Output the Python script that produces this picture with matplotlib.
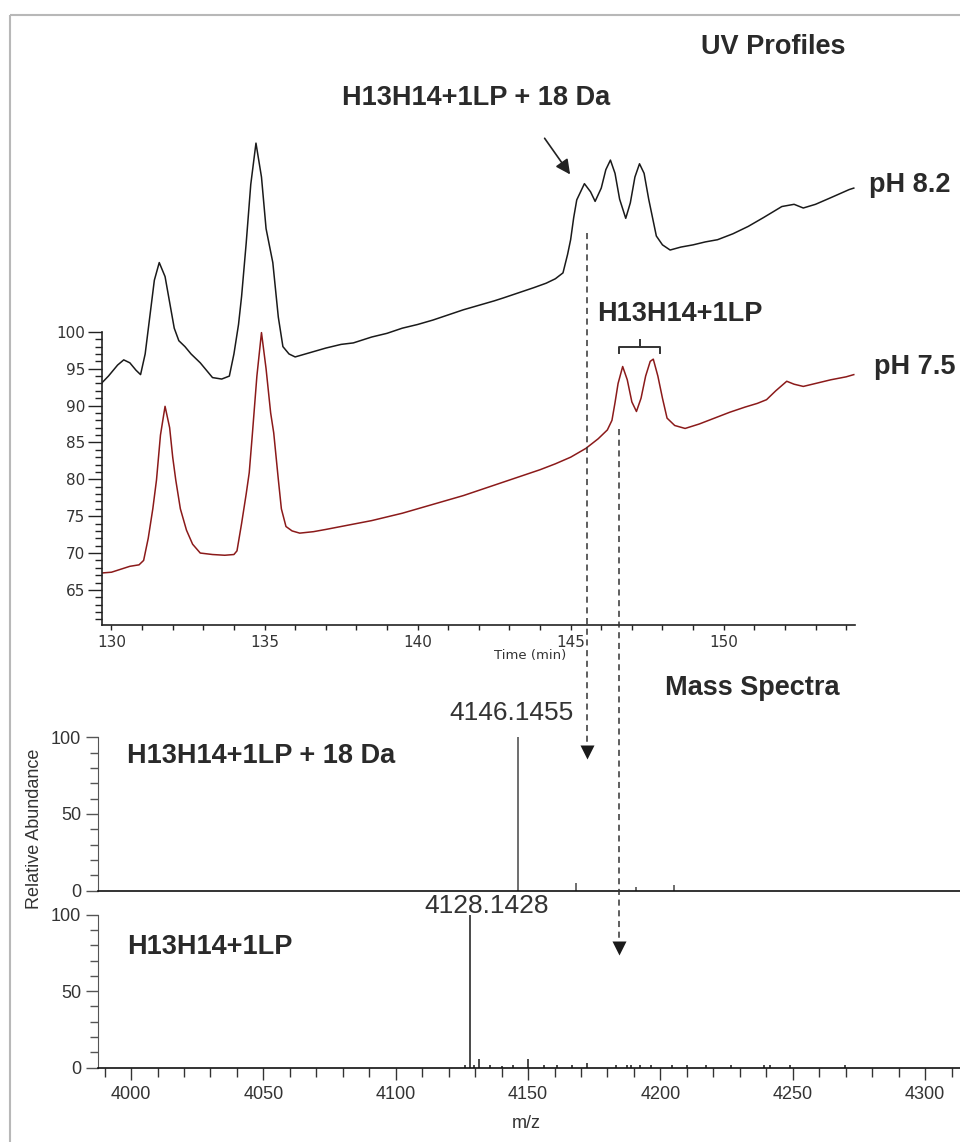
# UV profiles (pH 8.2 / 7.5) with the matching mass spectra below
import matplotlib.pyplot as plt
from matplotlib.patches import Rectangle

plt.rcParams['font.family'] = ['Liberation Sans', 'DejaVu Sans']

# --- UV trace, pH 8.2 (time in min, absorbance) ---
time_82 = [129.69, 129.9, 130.2, 130.4, 130.6, 130.8, 130.95, 131.1, 131.25, 131.4,
           131.56, 131.75, 131.9, 132.05, 132.2, 132.4, 132.6, 132.9, 133.1, 133.3,
           133.6, 133.85, 134.0, 134.15, 134.25, 134.4, 134.55, 134.72, 134.9, 135.05,
           135.27, 135.45, 135.6, 135.8, 136.0, 136.5, 137.0, 137.5, 137.9, 138.5,
           139.0, 139.5, 140.0, 140.5, 141.0, 141.5, 142.0, 142.5, 142.8, 143.3,
           143.8, 144.2, 144.5, 144.75, 144.9, 145.0, 145.1, 145.2, 145.45, 145.65,
           145.8, 146.0, 146.15, 146.3, 146.45, 146.6, 146.8, 146.95, 147.1, 147.25,
           147.4, 147.55, 147.7, 147.8, 148.0, 148.25, 148.6, 149.0, 149.4, 149.8,
           150.3, 150.8, 151.3, 151.9, 152.3, 152.6, 153.0, 153.5, 154.1, 154.25]
uv_82 = [93.1, 94.0, 95.5, 96.2, 95.8, 94.8, 94.2, 97.0, 102.0, 107.0,
         109.4, 107.5, 104.0, 100.5, 98.8, 98.0, 97.0, 95.8, 94.8, 93.8,
         93.6, 94.0, 97.0, 101.0, 104.8, 112.0, 120.0, 125.6, 121.0, 114.0,
         109.4, 102.0, 98.0, 97.0, 96.6, 97.2, 97.8, 98.3, 98.5, 99.3,
         99.8, 100.5, 101.0, 101.6, 102.3, 103.0, 103.6, 104.2, 104.6, 105.3,
         106.0, 106.6, 107.2, 108.0, 110.5, 112.5, 115.5, 117.9, 120.1, 119.0,
         117.7, 119.5, 122.0, 123.3, 121.5, 118.0, 115.4, 117.5, 121.0, 122.8,
         121.5, 118.0, 115.0, 113.0, 111.8, 111.1, 111.5, 111.8, 112.2, 112.5,
         113.3, 114.3, 115.5, 117.0, 117.3, 116.8, 117.3, 118.2, 119.3, 119.5]

# --- UV trace, pH 7.5 ---
time_75 = [129.7, 130.0, 130.3, 130.6, 130.9, 131.05, 131.2, 131.35, 131.47, 131.6,
           131.75, 131.9, 132.0, 132.1, 132.25, 132.45, 132.65, 132.9, 133.3, 133.7,
           134.0, 134.1, 134.25, 134.4, 134.5, 134.6, 134.75, 134.9, 135.05, 135.2,
           135.3, 135.45, 135.55, 135.7, 135.9, 136.15, 136.6, 137.0, 137.5, 138.0,
           138.5, 139.0, 139.5, 140.0, 140.5, 141.0, 141.5, 142.0, 142.5, 143.0,
           143.5, 144.0, 144.5, 145.0, 145.5, 145.9, 146.2, 146.35, 146.45, 146.55,
           146.7, 146.85, 147.0, 147.15, 147.3, 147.45, 147.6, 147.7, 147.85, 148.0,
           148.15, 148.4, 148.74, 149.2, 149.7, 150.2, 150.7, 151.1, 151.4, 151.7,
           152.06, 152.3, 152.6, 153.0, 153.5, 154.0, 154.25]
uv_75 = [67.3, 67.4, 67.8, 68.2, 68.4, 69.0, 72.0, 76.0, 79.9, 86.0,
         89.9, 87.0, 83.0, 79.9, 76.0, 73.1, 71.2, 70.0, 69.8, 69.7,
         69.8, 70.3, 74.0, 78.0, 80.9, 86.0, 94.0, 99.9, 95.0, 89.0,
         86.3, 80.0, 76.0, 73.6, 73.0, 72.7, 72.9, 73.2, 73.6, 74.0,
         74.4, 74.9, 75.4, 76.0, 76.6, 77.2, 77.8, 78.5, 79.2, 79.9,
         80.6, 81.3, 82.1, 83.0, 84.2, 85.5, 86.7, 88.0, 90.4, 93.0,
         95.3, 93.5, 90.5, 89.2, 91.0, 94.0, 96.0, 96.3, 94.0, 91.0,
         88.3, 87.3, 86.9, 87.5, 88.3, 89.1, 89.8, 90.3, 90.8, 92.0,
         93.3, 92.9, 92.6, 93.0, 93.5, 93.9, 94.2]

# --- mass spectra (m/z, relative abundance %) ---
mz_18da = [4146.1455, 4168.2, 4190.9, 4205.1]
ab_18da = [100, 4.6, 2.0, 3.5]

mz_1lp = [4126.2, 4128.1428, 4129.5, 4131.3, 4135.8, 4140.0, 4144.4, 4150.0, 4155.9,
          4161.0, 4166.6, 4172.1, 4183.4, 4187.2, 4188.9, 4192.3, 4196.3, 4204.2,
          4209.9, 4217.2, 4226.8, 4239.1, 4241.6, 4249.0, 4269.7]
ab_1lp = [2.0, 100, 2.0, 5.4, 2.0, 1.3, 2.0, 5.4, 1.5,
          1.5, 1.5, 3.3, 1.5, 2.0, 2.0, 2.0, 1.5, 1.5,
          1.5, 1.5, 1.5, 2.0, 2.0, 1.5, 1.5]

W, H = 960, 1142


def box(l, t, r, b):
    return [l / W, 1 - b / H, (r - l) / W, (b - t) / H]


fig = plt.figure(figsize=(W / 100, H / 100), dpi=100)

# UV panel
ax = fig.add_axes(box(102, 20, 855, 625))
ax.plot(time_82, uv_82, color='#1a1a1a', lw=1.1)
ax.plot(time_75, uv_75, color='#8b1a1a', lw=1.1)
ax.set_xlim(129.69, 154.29)
ax.set_ylim(60.24, 142.3)
ax.spines[['top', 'right']].set_visible(False)
ax.spines['left'].set_bounds(60.24, 100)
for s in ('left', 'bottom'):
    ax.spines[s].set_color('#222222')
    ax.spines[s].set_linewidth(1.2)
ax.set_yticks(range(65, 101, 5))
ax.set_yticks(range(61, 101), minor=True)
ax.set_xticks(range(130, 151, 5))
ax.set_xticks(range(130, 155), minor=True)
ax.tick_params(axis='y', which='major', length=10, width=1, color='#222222', pad=2)
ax.tick_params(axis='y', which='minor', length=5, width=1, color='#222222')
ax.tick_params(axis='x', which='both', length=3.5, width=1, color='#222222')
ax.tick_params(labelsize=11, labelcolor='#333333')
for lab in ax.get_xticklabels() + ax.get_yticklabels():
    lab.set_family('DejaVu Sans')
ax.patch.set_alpha(0)

# mass spectra panels
xlim_ms = (3987.4, 4313.2)
ax1 = fig.add_axes(box(97.7, 700, 960, 890.5))
ax2 = fig.add_axes(box(97.7, 900, 960, 1067.7))
ax1.vlines(mz_18da, 0, ab_18da, color='#6e6e6e', lw=1.4)
ax2.vlines(mz_1lp, 0, ab_1lp, color='#4a4a4a', lw=1.4)
ax1.set_ylim(0, 124.5)
ax2.set_ylim(0, 109.6)
for a in (ax1, ax2):
    a.set_xlim(*xlim_ms)
    a.spines[['top', 'right']].set_visible(False)
    a.spines['left'].set_bounds(0, 100)
    a.spines['left'].set_color('#555555')
    a.spines['bottom'].set_color('#111111')
    a.spines['bottom'].set_linewidth(1.2)
    a.set_yticks([0, 50, 100])
    a.set_yticks(range(0, 101, 10), minor=True)
    a.tick_params(axis='y', which='major', length=8.4, width=1, color='#555555',
                  labelsize=13, labelcolor='#333333')
    a.tick_params(axis='y', which='minor', length=5.5, width=1, color='#555555')
    a.patch.set_alpha(0)
ax1.set_xticks([])
ax2.set_xticks(range(4000, 4301, 50))
ax2.set_xticks(range(3990, 4311, 10), minor=True)
ax2.tick_params(axis='x', which='major', length=8.9, width=1, color='#333333',
                labelsize=13, labelcolor='#333333', pad=4)
ax2.tick_params(axis='x', which='minor', length=6.5, width=1, color='#333333')

# overlay in pixel units for labels and arrows
ov = fig.add_axes([0, 0, 1, 1])
ov.set_xlim(0, W)
ov.set_ylim(H, 0)
ov.axis('off')
ov.patch.set_alpha(0)
ov.add_patch(Rectangle((10, 15), W, H, fill=False, ec='#b8b8b8', lw=1.5))

bold = dict(fontsize=19.5, fontweight='bold', color='#2a2a2a', va='center')
ov.text(773, 47, 'UV Profiles', ha='center', **bold)
ov.text(476, 98, 'H13H14+1LP + 18 Da', ha='center', **bold)
ov.text(869, 185, 'pH 8.2', ha='left', **bold)
ov.text(680, 314, 'H13H14+1LP', ha='center', **bold)
ov.text(874, 367, 'pH 7.5', ha='left', **bold)
ov.text(752, 688, 'Mass Spectra', ha='center', **bold)
ov.text(127, 756, 'H13H14+1LP + 18 Da', ha='left', **bold)
ov.text(127, 947, 'H13H14+1LP', ha='left', **bold)

ov.text(511, 713, '4146.1455', ha='center', va='center', fontsize=19, color='#333333')
ov.text(487, 906, '4128.1428', ha='center', va='center', fontsize=19, color='#333333')
ov.text(530, 656, 'Time (min)', ha='center', va='center', fontsize=9.5,
        family='DejaVu Sans', color='#333333')
ov.text(35, 829, 'Relative Abundance', ha='center', va='center', rotation=90,
        fontsize=13, color='#333333')
ov.text(526, 1123, 'm/z', ha='center', va='center', fontsize=13, color='#333333')

# arrow to the +18 Da shoulder
ov.annotate('', xy=(571.7, 176.7), xytext=(543, 136),
            arrowprops=dict(arrowstyle='-|>', color='#222222', lw=1.2,
                            mutation_scale=22))
# bracket over the two pH 7.5 peaks
ov.plot([619, 619, 660, 660], [352.7, 346.7, 346.7, 352.7], color='#333333', lw=1.4)
ov.plot([639.5, 639.5], [346.7, 339.5], color='#333333', lw=1.4)

# dashed links from UV peaks down to the spectra
for x, y0, y1 in [(586.6, 232.7, 750), (619.3, 429.3, 946)]:
    ov.plot([x, x], [y0, y1], color='#333333', lw=1.1, ls=(0, (4, 3)))
    ov.plot([x], [y1 + 2], marker='v', ms=10, color='#1a1a1a', mec='none')

fig.savefig('out.png', dpi=100)
